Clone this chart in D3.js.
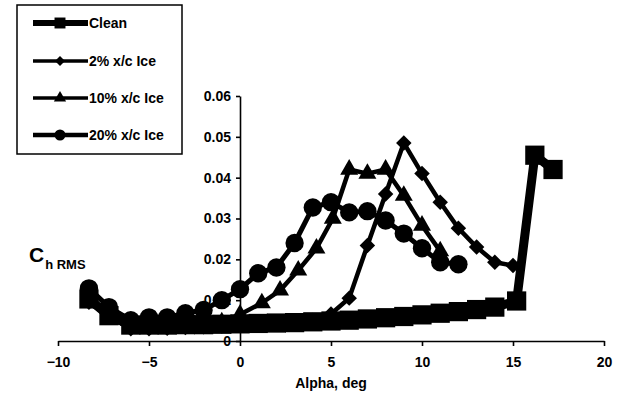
<!DOCTYPE html>
<html><head><meta charset="utf-8">
<script src="https://cdn.jsdelivr.net/npm/d3@7"></script>
<style>body{margin:0;background:#fff}svg{display:block}text{font-family:"Liberation Sans",Arial,sans-serif;font-weight:bold;fill:#000}</style>
</head><body><svg id="c" width="624" height="398"></svg>
<script>
const seriesNames = ["Clean","2% x/c Ice","10% x/c Ice","20% x/c Ice"];
const alphaClean = [-8.3,-7.2,-6,-5,-4,-3,-2,-1,0,1,2,3,4,5,6,7,8,9,10,11,12,13,14,15.2,16.2,17.2];
const chClean = [0.0103,0.0062,0.0039,0.0039,0.0039,0.0040,0.0040,0.0041,0.0042,0.0043,0.0044,0.0045,0.0047,0.0049,0.0051,0.0054,0.0057,0.0060,0.0064,0.0068,0.0072,0.0077,0.0083,0.0098,0.0455,0.0420];
const alpha2 = [-8.3,-7.2,-6,-5,-4,-3,-2,-1,0,1,2,3,4,5,6,7,8,9,10,11,12,13,14,15];
const ch2 = [0.0095,0.0060,0.0030,0.0030,0.0031,0.0033,0.0035,0.0037,0.0040,0.0042,0.0044,0.0046,0.0050,0.0066,0.0105,0.0234,0.0360,0.0485,0.0410,0.0340,0.0276,0.0230,0.0193,0.0185];
const alpha10 = [-8.3,-7.2,-6,-5,-4,-3,-2,-1,0,1.2,2.2,3.2,4.2,5.1,6,7,8,9,10,11];
const ch10 = [0.0095,0.0058,0.0032,0.0033,0.0034,0.0036,0.0040,0.0046,0.0065,0.0093,0.0124,0.0173,0.0227,0.0300,0.0420,0.0410,0.0420,0.0356,0.0283,0.0220];
const alpha20 = [-8.3,-7.2,-6,-5,-4,-3,-2,-1,0,1,2,3,4,5,6,7,8,9,10,11,12];
const ch20 = [0.0129,0.0083,0.0051,0.0058,0.0058,0.0068,0.0076,0.0100,0.0127,0.0166,0.0180,0.0240,0.0327,0.0340,0.0315,0.0318,0.0295,0.0263,0.0227,0.0193,0.0188];
const xTicks = [-10,-5,0,5,10,15,20];
const yTicks = [0,0.01,0.02,0.03,0.04,0.05,0.06];

const svg = d3.select("#c");
const x = d3.scaleLinear().domain([-10,20]).range([58,604]);
const y = d3.scaleLinear().domain([0,0.06]).range([341,96]);

// axes
const xa = svg.append("g").attr("transform",`translate(0,${y(0)})`)
  .call(d3.axisBottom(x).tickValues(xTicks).tickSize(5).tickSizeOuter(0).tickFormat(d3.format("d")));
xa.select(".domain").attr("stroke","#000").attr("stroke-width",1.6);
xa.selectAll(".tick line").attr("stroke","#000").attr("stroke-width",1.6);
xa.selectAll(".tick text").attr("font-size",14).attr("font-family",null).attr("dy","1em").attr("y",12);

const ya = svg.append("g").attr("transform",`translate(${x(0)},0)`)
  .call(d3.axisLeft(y).tickValues(yTicks).tickSize(4).tickSizeOuter(0).tickFormat(d=>d===0?"0":d3.format(".2f")(d)));
ya.select(".domain").attr("stroke","#000").attr("stroke-width",1.6);
ya.selectAll(".tick line").attr("stroke","#000").attr("stroke-width",1.6);
ya.selectAll(".tick text").attr("font-size",14).attr("font-family",null).attr("x",-9);

svg.append("text").attr("x",x(5)).attr("y",388).attr("text-anchor","middle").attr("font-size",14).text("Alpha, deg");
const yl = svg.append("text").attr("x",29).attr("y",262).attr("font-size",21);
yl.append("tspan").text("C");
yl.append("tspan").attr("font-size",13).attr("dy",7).attr("dx",1).text("h RMS");

// series
const sym = {
  square: d3.symbolSquare, diamond: d3.symbolSquare, triangle: d3.symbolTriangle, circle: d3.symbolCircle
};
const series = [
  {name:seriesNames[0], a:alphaClean, v:chClean, lw:9, shape:"square", size:370, lsize:120, llw:6},
  {name:seriesNames[1], a:alpha2, v:ch2, lw:4.5, shape:"diamond", size:120, lsize:50, llw:3.5},
  {name:seriesNames[2], a:alpha10, v:ch10, lw:4.5, shape:"triangle", size:140, lsize:65, llw:3.5},
  {name:seriesNames[3], a:alpha20, v:ch20, lw:5, shape:"circle", size:265, lsize:95, llw:4.5}
];
const line = d3.line().x(d=>x(d[0])).y(d=>y(d[1]));
series.forEach(s=>{
  const pts = s.a.map((a,i)=>[a,s.v[i]]);
  const rot = s.shape==="diamond" ? " rotate(45)" : "";
  const g = svg.append("g");
  g.append("path").attr("d",line(pts)).attr("fill","none").attr("stroke","#000").attr("stroke-width",s.lw).attr("stroke-linejoin","round");
  g.selectAll("path.m").data(pts).join("path").attr("class","m")
    .attr("d",d3.symbol(sym[s.shape],s.size)())
    .attr("transform",d=>`translate(${x(d[0])},${y(d[1])})${rot}`).attr("fill","#000");
});

// legend
const lg = svg.append("g");
lg.append("rect").attr("x",17).attr("y",5).attr("width",165).attr("height",149).attr("fill","#fff").attr("stroke","#000").attr("stroke-width",1.5);
const ly = [23,61,98,135];
series.forEach((s,i)=>{
  const rot = s.shape==="diamond" ? " rotate(45)" : "";
  lg.append("line").attr("x1",33).attr("x2",88).attr("y1",ly[i]).attr("y2",ly[i]).attr("stroke","#000").attr("stroke-width",s.llw);
  lg.append("path").attr("d",d3.symbol(sym[s.shape],s.lsize)()).attr("transform",`translate(60,${ly[i]})${rot}`).attr("fill","#000");
  lg.append("text").attr("x",89).attr("y",ly[i]+5).attr("font-size",14).text(s.name);
});
</script></body></html>
